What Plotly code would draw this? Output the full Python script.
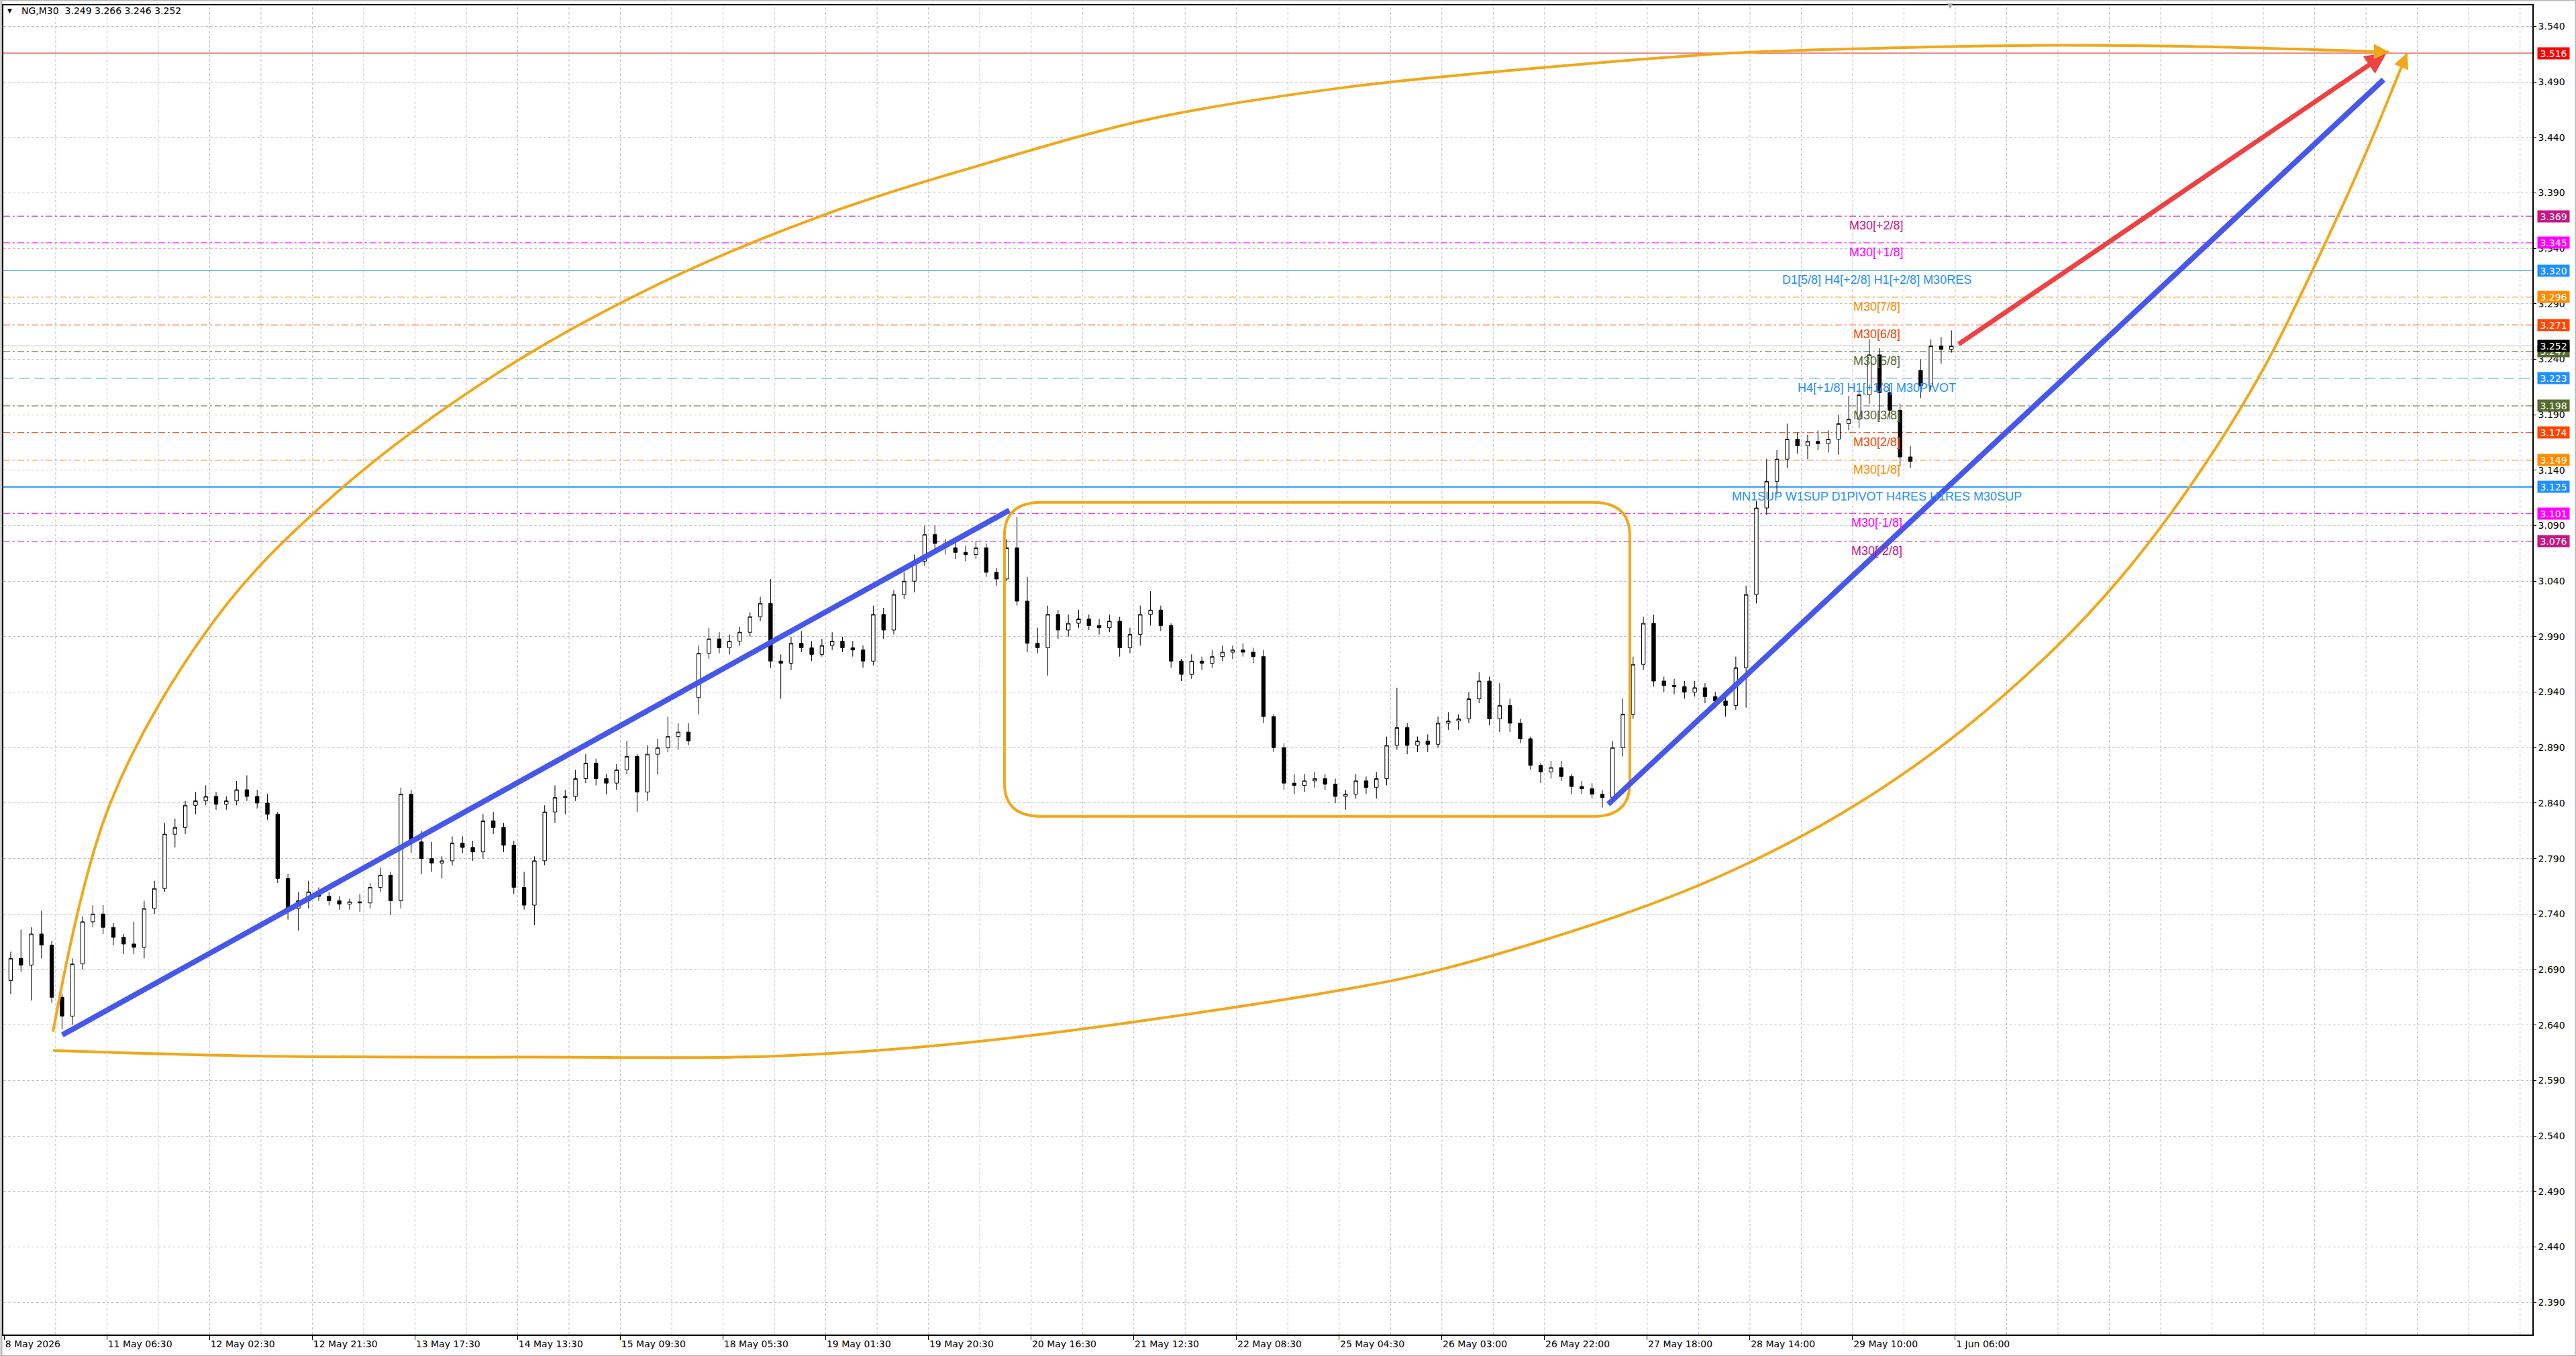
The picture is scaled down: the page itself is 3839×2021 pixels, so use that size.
import plotly.graph_objects as go

# %%
# header of the chart window
symbol_text = "NG,M30  3.249 3.266 3.246 3.252"

# price, one candle per 4 bars (2 hours) of the M30 chart
opens = [2.680, 2.700, 2.694, 2.722, 2.712, 2.665, 2.648, 2.695, 2.733, 2.740,
         2.728, 2.719, 2.713, 2.710, 2.745, 2.763, 2.812, 2.818, 2.838, 2.842,
         2.846, 2.839, 2.842, 2.852, 2.846, 2.840, 2.830, 2.772, 2.745, 2.752,
         2.760, 2.756, 2.752, 2.749, 2.751, 2.750, 2.764, 2.775, 2.752, 2.848,
         2.805, 2.790, 2.786, 2.788, 2.804, 2.800, 2.796, 2.824, 2.818, 2.802,
         2.764, 2.748, 2.788, 2.832, 2.845, 2.846, 2.862, 2.876, 2.862, 2.858,
         2.870, 2.882, 2.850, 2.884, 2.890, 2.900, 2.904, 2.935, 2.975, 2.988,
         2.980, 2.986, 2.994, 3.008, 3.020, 2.968, 2.966, 2.984, 2.980, 2.974,
         2.982, 2.986, 2.980, 2.978, 2.968, 3.010, 2.996, 3.028, 3.040, 3.058,
         3.082, 3.074, 3.070, 3.066, 3.064, 3.070, 3.048, 3.042, 3.070, 3.022,
         2.984, 2.980, 3.010, 2.996, 3.002, 3.006, 3.000, 2.998, 3.004, 2.980,
         2.992, 3.010, 3.014, 3.000, 2.968, 2.956, 2.968, 2.966, 2.972, 2.976,
         2.978, 2.976, 2.972, 2.918, 2.890, 2.858, 2.856, 2.860, 2.862, 2.857,
         2.846, 2.848, 2.860, 2.854, 2.862, 2.892, 2.908, 2.892, 2.896, 2.893,
         2.912, 2.914, 2.916, 2.934, 2.950, 2.916, 2.928, 2.912, 2.898, 2.874,
         2.868, 2.872, 2.864, 2.855, 2.853, 2.848, 2.845, 2.890, 2.920, 2.965,
         3.002, 2.950, 2.946, 2.945, 2.940, 2.944, 2.936, 2.932, 2.928, 2.962,
         3.028, 3.106, 3.130, 3.150, 3.168, 3.162, 3.166, 3.164, 3.168, 3.182,
         3.186, 3.208, 3.244, 3.210, 3.194, 3.152, 3.230, 3.216, 3.252, 3.249]
highs = [2.706, 2.726, 2.728, 2.743, 2.716, 2.668, 2.700, 2.738, 2.748, 2.748,
         2.732, 2.722, 2.733, 2.752, 2.770, 2.822, 2.826, 2.842, 2.850, 2.856,
         2.850, 2.846, 2.860, 2.865, 2.852, 2.848, 2.832, 2.776, 2.760, 2.770,
         2.764, 2.760, 2.756, 2.754, 2.758, 2.768, 2.782, 2.778, 2.854, 2.852,
         2.815, 2.805, 2.792, 2.810, 2.810, 2.806, 2.830, 2.832, 2.822, 2.806,
         2.778, 2.792, 2.838, 2.856, 2.852, 2.870, 2.884, 2.880, 2.866, 2.875,
         2.896, 2.884, 2.892, 2.898, 2.918, 2.912, 2.912, 2.982, 2.998, 2.994,
         2.992, 2.999, 3.012, 3.026, 3.042, 2.974, 2.990, 2.995, 2.986, 2.988,
         2.994, 2.990, 2.986, 2.982, 3.018, 3.016, 3.032, 3.048, 3.064, 3.090,
         3.090, 3.078, 3.076, 3.072, 3.076, 3.074, 3.052, 3.078, 3.098, 3.044,
         2.998, 3.018, 3.014, 3.010, 3.014, 3.010, 3.006, 3.010, 3.008, 2.998,
         3.018, 3.031, 3.018, 3.002, 2.970, 2.974, 2.972, 2.978, 2.982, 2.982,
         2.984, 2.980, 2.978, 2.920, 2.894, 2.866, 2.866, 2.868, 2.866, 2.862,
         2.852, 2.866, 2.864, 2.868, 2.900, 2.944, 2.912, 2.900, 2.902, 2.918,
         2.922, 2.920, 2.940, 2.958, 2.954, 2.948, 2.934, 2.916, 2.900, 2.876,
         2.878, 2.878, 2.866, 2.860, 2.858, 2.852, 2.896, 2.934, 2.972, 3.008,
         3.010, 2.954, 2.952, 2.950, 2.950, 2.948, 2.940, 2.936, 2.972, 3.036,
         3.112, 3.150, 3.158, 3.182, 3.174, 3.172, 3.176, 3.176, 3.190, 3.207,
         3.214, 3.258, 3.250, 3.218, 3.200, 3.162, 3.240, 3.258, 3.260, 3.266]
lows = [2.668, 2.688, 2.662, 2.700, 2.660, 2.636, 2.640, 2.690, 2.728, 2.722,
        2.712, 2.704, 2.704, 2.700, 2.740, 2.760, 2.800, 2.812, 2.830, 2.838,
        2.834, 2.834, 2.838, 2.842, 2.835, 2.825, 2.768, 2.735, 2.725, 2.745,
        2.752, 2.748, 2.744, 2.744, 2.742, 2.745, 2.760, 2.739, 2.745, 2.795,
        2.776, 2.778, 2.772, 2.784, 2.795, 2.788, 2.790, 2.812, 2.796, 2.758,
        2.744, 2.730, 2.784, 2.822, 2.830, 2.842, 2.858, 2.856, 2.848, 2.852,
        2.866, 2.832, 2.842, 2.866, 2.886, 2.888, 2.892, 2.920, 2.970, 2.975,
        2.974, 2.982, 2.990, 3.004, 2.962, 2.934, 2.960, 2.976, 2.968, 2.972,
        2.978, 2.976, 2.972, 2.962, 2.964, 2.988, 2.992, 3.024, 3.030, 3.054,
        3.068, 3.064, 3.060, 3.058, 3.060, 3.044, 3.036, 3.040, 3.018, 2.976,
        2.975, 2.955, 2.988, 2.990, 2.998, 2.996, 2.992, 2.994, 2.972, 2.975,
        2.982, 3.000, 2.995, 2.962, 2.950, 2.952, 2.960, 2.962, 2.968, 2.970,
        2.972, 2.966, 2.912, 2.886, 2.852, 2.848, 2.850, 2.854, 2.852, 2.840,
        2.834, 2.844, 2.848, 2.844, 2.856, 2.888, 2.884, 2.886, 2.886, 2.890,
        2.906, 2.906, 2.912, 2.930, 2.910, 2.904, 2.904, 2.894, 2.870, 2.858,
        2.862, 2.860, 2.848, 2.848, 2.844, 2.836, 2.842, 2.882, 2.916, 2.960,
        2.945, 2.940, 2.938, 2.934, 2.936, 2.930, 2.926, 2.918, 2.924, 2.926,
        3.020, 3.100, 3.118, 3.142, 3.155, 3.150, 3.158, 3.156, 3.154, 3.176,
        3.178, 3.200, 3.185, 3.186, 3.144, 3.142, 3.205, 3.212, 3.236, 3.246]
closes = [2.700, 2.694, 2.722, 2.712, 2.665, 2.648, 2.695, 2.733, 2.740, 2.728,
          2.719, 2.713, 2.710, 2.745, 2.763, 2.812, 2.818, 2.838, 2.842, 2.846,
          2.839, 2.842, 2.852, 2.846, 2.840, 2.830, 2.772, 2.745, 2.752, 2.760,
          2.756, 2.752, 2.749, 2.751, 2.750, 2.764, 2.775, 2.752, 2.848, 2.805,
          2.790, 2.786, 2.788, 2.804, 2.800, 2.796, 2.824, 2.818, 2.802, 2.764,
          2.748, 2.788, 2.832, 2.845, 2.846, 2.862, 2.876, 2.862, 2.858, 2.870,
          2.882, 2.850, 2.884, 2.890, 2.900, 2.904, 2.896, 2.975, 2.988, 2.980,
          2.986, 2.994, 3.008, 3.020, 2.968, 2.966, 2.984, 2.980, 2.974, 2.982,
          2.986, 2.980, 2.978, 2.968, 3.010, 2.996, 3.028, 3.040, 3.058, 3.082,
          3.074, 3.070, 3.066, 3.064, 3.070, 3.048, 3.042, 3.070, 3.022, 2.984,
          2.980, 3.010, 2.996, 3.002, 3.006, 3.000, 2.998, 3.004, 2.980, 2.992,
          3.010, 3.014, 3.000, 2.968, 2.956, 2.968, 2.966, 2.972, 2.976, 2.978,
          2.976, 2.972, 2.918, 2.890, 2.858, 2.856, 2.860, 2.862, 2.857, 2.846,
          2.848, 2.860, 2.854, 2.862, 2.892, 2.908, 2.892, 2.896, 2.893, 2.912,
          2.914, 2.916, 2.934, 2.950, 2.916, 2.928, 2.912, 2.898, 2.874, 2.868,
          2.872, 2.864, 2.855, 2.853, 2.848, 2.845, 2.890, 2.920, 2.965, 3.002,
          2.950, 2.946, 2.945, 2.940, 2.944, 2.936, 2.932, 2.928, 2.962, 3.028,
          3.106, 3.130, 3.150, 3.168, 3.162, 3.166, 3.164, 3.168, 3.182, 3.186,
          3.208, 3.244, 3.210, 3.194, 3.152, 3.148, 3.216, 3.252, 3.249, 3.252]

# time axis labels (one every 40 bars)
tick_labels = ["8 May 2026", "11 May 06:30", "12 May 02:30", "12 May 21:30",
               "13 May 17:30", "14 May 13:30", "15 May 09:30", "18 May 05:30",
               "19 May 01:30", "19 May 20:30", "20 May 16:30", "21 May 12:30",
               "22 May 08:30", "25 May 04:30", "26 May 03:00", "26 May 22:00",
               "27 May 18:00", "28 May 14:00", "29 May 10:00", "1 Jun 06:00"]

# horizontal levels
level_prices = [3.516, 3.369, 3.345, 3.320, 3.296, 3.271, 3.247, 3.223,
                3.198, 3.174, 3.149, 3.125, 3.101, 3.076]
level_texts = ["", "M30[+2/8]", "M30[+1/8]", "D1[5/8] H4[+2/8] H1[+2/8] M30RES",
               "M30[7/8]", "M30[6/8]", "M30[5/8]", "H4[+1/8] H1[+1/8] M30PIVOT",
               "M30[3/8]", "M30[2/8]", "M30[1/8]",
               "MN1SUP W1SUP D1PIVOT H4RES H1RES M30SUP", "M30[-1/8]", "M30[-2/8]"]

# hand drawn objects: (bar index, price)
trend1_x, trend1_y = [21.6, 390.5], [2.631, 3.104]
trend2_x, trend2_y = [623.8, 925.8], [2.839, 3.492]
arrow_x, arrow_y = [759.9, 927.0], [3.253, 3.516]
box_x, box_y = [388.6, 632.2], [2.828, 3.111]
arc_top_x = [18, 40.3, 81.3, 126.1, 190.1, 254.1, 318.1, 382.1,
             446.1, 521, 603.5, 672, 741, 796, 851, 928]
arc_top_y = [2.634, 2.840, 3.006, 3.115, 3.226, 3.308, 3.370,
             3.417, 3.457, 3.485, 3.504, 3.516, 3.521, 3.523, 3.522, 3.517]
arc_bot_x = [18, 98, 207, 300, 382, 521, 562, 631, 672, 714.2, 755.2, 796.2,
             823.7, 851.2, 878.7, 906.2, 919.7, 935]
arc_bot_y = [2.617, 2.612, 2.611, 2.612, 2.626, 2.672, 2.692, 2.741, 2.779,
             2.830, 2.894, 2.976, 3.044, 3.128, 3.230, 3.360, 3.430, 3.516]

# %%
W, H = 3839, 2021
ML, MR, MT, MB = 3, 65, 8, 32
x_min, x_max = -1.36, 983.8
y_min, y_max = 2.361, 3.559

level_colors = ['#D01E1E', '#C71585', '#FF00FF', '#1E90FF', '#FF8C00', '#FF4500',
                '#556B2F', '#1E90FF', '#556B2F', '#FF4500', '#FF8C00', '#1E90FF',
                '#FF00FF', '#C71585']
box_colors = ['#FF0000', '#C71585', '#FF00FF', '#1E90FF', '#FF8C00', '#FF4500',
              '#556B2F', '#1E90FF', '#556B2F', '#FF4500', '#FF8C00', '#1E90FF',
              '#FF00FF', '#C71585']
dd = '10px,4px,3px,4px'
level_dashes = ['solid', dd, dd, 'solid', dd, dd, dd, '16px,7px', dd, dd, dd,
                'solid', dd, dd]
level_widths = [1, 1, 1, 1, 1, 1, 1, 1, 1, 1, 1, 2, 1, 1]

ORANGE = '#F0A81A'
BLUE = '#4657EE'
RED = '#EF4141'
GRID = '#c4c4c4'
label_x = 728.3

bar_x = [4 * k + 1.5 for k in range(len(closes))]

fig = go.Figure()

fig.add_trace(go.Candlestick(
    x=bar_x, open=opens, high=highs, low=lows, close=closes,
    increasing=dict(line=dict(color='black', width=1), fillcolor='white'),
    decreasing=dict(line=dict(color='black', width=1), fillcolor='black'),
    whiskerwidth=0, hoverinfo='skip', showlegend=False))

# the two orange arcs
for ax_, ay_ in [(arc_top_x, arc_top_y), (arc_bot_x, arc_bot_y)]:
    fig.add_trace(go.Scatter(x=ax_, y=ay_, mode='lines',
                             line=dict(color=ORANGE, width=4, shape='spline', smoothing=1.0),
                             hoverinfo='skip', showlegend=False))

shapes = []
# vertical grid, every 20 bars
for v in range(19, int(x_max) + 1, 20):
    shapes.append(dict(type='line', xref='x', yref='paper', x0=v, x1=v, y0=0, y1=1,
                       layer='below', line=dict(color=GRID, width=1, dash='4px,3px')))

# horizontal levels
for p, c, d, w in zip(level_prices, level_colors, level_dashes, level_widths):
    shapes.append(dict(type='line', xref='paper', yref='y', x0=0, x1=1, y0=p, y1=p,
                       layer='between', line=dict(color=c, width=w, dash=d)))
# current price line
shapes.append(dict(type='line', xref='paper', yref='y', x0=0, x1=1,
                   y0=closes[-1], y1=closes[-1], layer='between',
                   line=dict(color='#c0c0c0', width=1)))

# orange rounded box
rx, ry = 14.4, 0.030
x0, x1 = box_x
y0, y1 = box_y
box_path = (f"M{x0 + rx},{y1} L{x1 - rx},{y1} Q{x1},{y1} {x1},{y1 - ry} "
            f"L{x1},{y0 + ry} Q{x1},{y0} {x1 - rx},{y0} L{x0 + rx},{y0} "
            f"Q{x0},{y0} {x0},{y0 + ry} L{x0},{y1 - ry} Q{x0},{y1} {x0 + rx},{y1} Z")
shapes.append(dict(type='path', xref='x', yref='y', path=box_path,
                   line=dict(color=ORANGE, width=4)))

# blue trendlines
for tx, ty in [(trend1_x, trend1_y), (trend2_x, trend2_y)]:
    shapes.append(dict(type='line', xref='x', yref='y', x0=tx[0], y0=ty[0], x1=tx[1], y1=ty[1],
                       line=dict(color=BLUE, width=8)))

# outer window frame
shapes.append(dict(type='rect', xref='paper', yref='paper',
                   x0=-ML / (W - ML - MR), x1=1 + MR / (W - ML - MR),
                   y0=-MB / (H - MT - MB), y1=1 + MT / (H - MT - MB),
                   line=dict(color='#b8b8b8', width=3), layer='below'))

annotations = []
# level captions
for p, t, c in zip(level_prices, level_texts, level_colors):
    if t:
        annotations.append(dict(x=label_x, y=p, xref='x', yref='y', text=t, showarrow=False,
                                xanchor='center', yanchor='top', yshift=-2,
                                font=dict(family='Liberation Sans, Arial', size=18, color=c)))
# price boxes on the right scale
for p, c in zip(level_prices + [closes[-1]], box_colors + ['#000000']):
    annotations.append(dict(x=1, y=p, xref='paper', yref='y', text=f"{p:.3f}", showarrow=False,
                            xanchor='left', yanchor='middle', xshift=7, bgcolor=c, borderpad=1,
                            width=45, height=15,
                            font=dict(family='DejaVu Sans', size=14, color='white')))

# red arrow
annotations.append(dict(x=arrow_x[1], y=arrow_y[1], ax=arrow_x[0], ay=arrow_y[0],
                        xref='x', yref='y', axref='x', ayref='y', text='', showarrow=True,
                        arrowhead=2, arrowsize=0.9, arrowwidth=7, arrowcolor=RED))
# orange arrow heads at the end of the arcs
for ax_, ay_ in [(arc_top_x, arc_top_y), (arc_bot_x, arc_bot_y)]:
    annotations.append(dict(x=ax_[-1], y=ay_[-1], ax=ax_[-1] - (ax_[-1] - ax_[-2]) * 0.4,
                            ay=ay_[-1] - (ay_[-1] - ay_[-2]) * 0.4,
                            xref='x', yref='y', axref='x', ayref='y', text='', showarrow=True,
                            arrowhead=2, arrowsize=1.3, arrowwidth=3.5, arrowcolor=ORANGE))

# header
annotations.append(dict(x=(13 - ML) / (W - ML - MR), y=1 - (16 - MT) / (H - MT - MB),
                        xref='paper', yref='paper', text='▼', showarrow=False,
                        xanchor='center', yanchor='middle',
                        font=dict(family='DejaVu Sans', size=9, color='black')))
annotations.append(dict(x=(28 - ML) / (W - ML - MR), y=1 - (16 - MT) / (H - MT - MB),
                        xref='paper', yref='paper', text=symbol_text, showarrow=False,
                        xanchor='left', yanchor='middle',
                        font=dict(family='DejaVu Sans', size=14, color='black')))
# chart shift marker
annotations.append(dict(x=757, y=1, xref='x', yref='paper', text='▼', showarrow=False,
                        xanchor='center', yanchor='middle',
                        font=dict(family='DejaVu Sans', size=11, color='#a8a8a8')))

fig.update_layout(
    width=W, height=H,
    margin=dict(l=ML, r=MR, t=MT, b=MB, pad=0),
    paper_bgcolor='white', plot_bgcolor='white',
    showlegend=False, boxgap=0.5,
    shapes=shapes, annotations=annotations,
    xaxis=dict(range=[x_min, x_max], rangeslider=dict(visible=False),
               tickmode='array', tickvals=[-1 + 40 * i for i in range(len(tick_labels))],
               ticktext=tick_labels, ticklabelposition='outside right',
               ticks='outside', ticklen=6, tickcolor='black', showgrid=False,
               showline=True, linecolor='black', linewidth=1.5, mirror=True, zeroline=False,
               tickfont=dict(family='DejaVu Sans', size=14, color='black')),
    yaxis=dict(range=[y_min, y_max], side='right', tickmode='linear', tick0=2.390, dtick=0.05,
               tickformat='.3f', ticks='outside', ticklen=4, tickcolor='black',
               showgrid=True, gridcolor=GRID, griddash='4px,3px', gridwidth=1,
               showline=True, linecolor='black', linewidth=1.5, mirror=True, zeroline=False,
               tickfont=dict(family='DejaVu Sans', size=14, color='black')),
)

fig.write_html("out.html", config={'displayModeBar': False},
               post_script="document.body.style.margin='0';document.body.style.overflow='hidden';")
